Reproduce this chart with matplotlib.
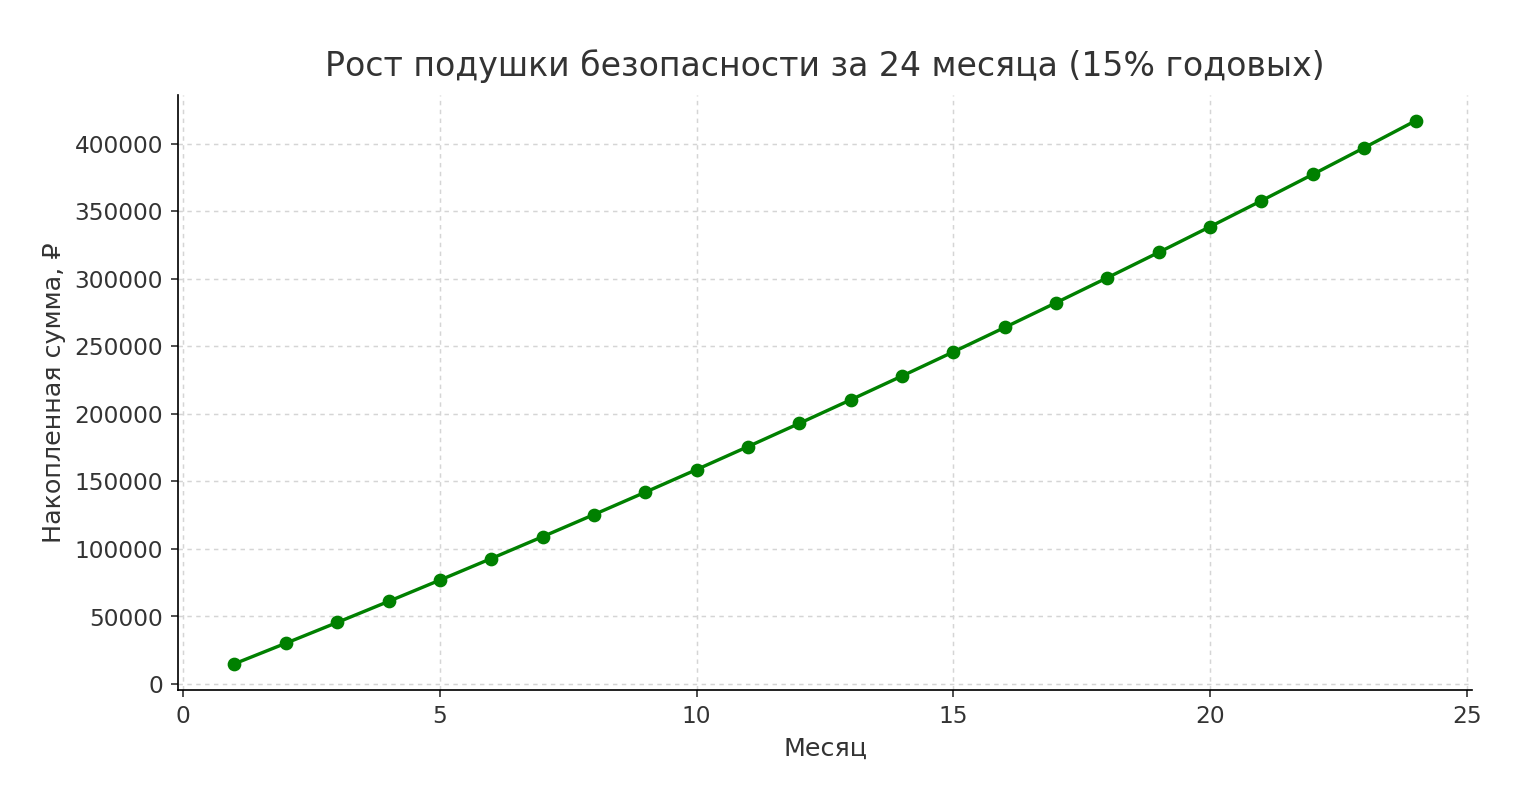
import matplotlib.pyplot as plt

months = list(range(1, 25))
savings = [15000, 30190, 45560, 61140, 76900, 92860, 109020, 125390, 141950,
           158720, 175700, 192900, 210310, 227940, 245800, 263870, 282170,
           300700, 319450, 338450, 357670, 377150, 396860, 416820]

plt.rcParams['font.family'] = ['DejaVu Sans']
fig = plt.figure(figsize=(10, 5.33), dpi=152)
ax = fig.add_axes([178 / 1520, 1 - 690 / 810, (1472 - 178) / 1520, (690 - 95) / 810])

ax.plot(months, savings, color='green', marker='o', linewidth=1.6, markersize=5.5)
ax.set_xlim(-0.1, 25.1)
ax.set_ylim(-4400, 436000)
ax.set_xticks([0, 5, 10, 15, 20, 25])
ax.set_title('Рост подушки безопасности за 24 месяца (15% годовых)', fontsize=15.7, color='#333333', pad=9)
ax.set_xlabel('Месяц', color='#333333', fontsize=12)
ax.set_ylabel('Накопленная сумма, ₽', color='#333333', fontsize=12)
ax.grid(True, linestyle=(0, (3, 3)), color='#d5d5d5', linewidth=0.7)
ax.spines['top'].set_visible(False)
ax.spines['right'].set_visible(False)
ax.tick_params(colors='#333333', labelsize=11)

fig.savefig('out.png')
